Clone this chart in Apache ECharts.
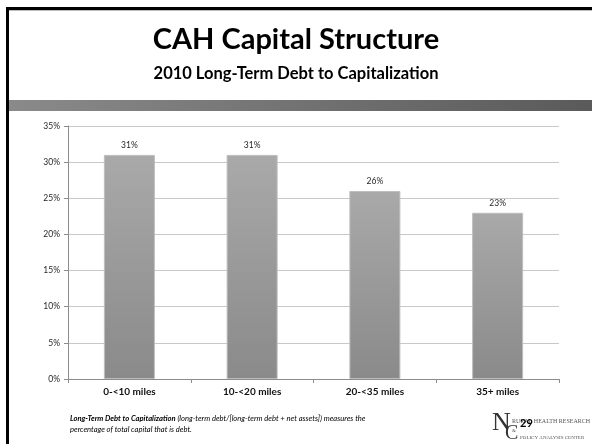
<!DOCTYPE html>
<html>
<head>
<meta charset="utf-8">
<script src="https://cdn.jsdelivr.net/npm/echarts@6/dist/echarts.min.js"></script>
<style>
  html, body { margin: 0; padding: 0; background: #fff; }
  #chart { width: 592px; height: 444px; }
</style>
</head>
<body>
<div id="chart"></div>
<script>
// Distance bands and the 2010 long-term debt to capitalization ratio (%)
const categories = ['0-<10 miles', '10-<20 miles', '20-<35 miles', '35+ miles'];
const debtToCap = [31, 31, 26, 23];
const yTicks = ['0%', '5%', '10%', '15%', '20%', '25%', '30%', '35%'];

const titleText = 'CAH Capital Structure';
const subtitleText = '2010 Long-Term Debt to Capitalization';
const noteTerm = 'Long-Term Debt to Capitalization';
const noteLine1 = ' (long-term debt/[long-term debt + net assets]) measures the';
const noteLine2 = 'percentage of total capital that is debt.';
const pageNumber = '29';

const FONT = 'Lato, "Open Sans", sans-serif';

const chart = echarts.init(document.getElementById('chart'), null, { renderer: 'canvas' });

chart.setOption({
  backgroundColor: '#ffffff',
  animation: false,
  grid: { left: 68, right: 33, top: 126, bottom: 65, containLabel: false },
  xAxis: {
    type: 'category',
    data: categories,
    axisLine: { show: true, lineStyle: { color: '#8c8c8c', width: 1 } },
    axisTick: { show: true, alignWithLabel: false, length: 4, lineStyle: { color: '#8c8c8c' } },
    axisLabel: {
      color: '#111111', fontFamily: FONT, fontWeight: 'bold', fontSize: 10, margin: 8
    }
  },
  yAxis: {
    type: 'value',
    min: 0,
    max: 35,
    interval: 5,
    axisLine: { show: true, lineStyle: { color: '#8c8c8c', width: 1 } },
    axisTick: { show: true, length: 4, lineStyle: { color: '#8c8c8c' } },
    splitLine: { show: true, lineStyle: { color: '#c8c8c8', width: 1 } },
    axisLabel: {
      color: '#262626', fontFamily: FONT, fontSize: 8.5, margin: 8,
      formatter: (v) => yTicks[Math.round(v / 5)]
    }
  },
  series: [{
    type: 'bar',
    data: debtToCap,
    barWidth: 51,
    itemStyle: {
      color: new echarts.graphic.LinearGradient(0, 0, 0, 1, [
        { offset: 0, color: '#a9a9a9' },
        { offset: 1, color: '#8a8a8a' }
      ]),
      borderColor: '#bdbdbd',
      borderWidth: 1
    },
    label: {
      show: true,
      position: 'top',
      distance: 5,
      color: '#262626',
      fontFamily: FONT,
      fontSize: 8.5,
      formatter: (p) => p.value + '%'
    }
  }],
  graphic: [
    // slide frame: black rule along the top and left edge
    { type: 'rect', shape: { x: 6, y: 7, width: 586, height: 3 }, style: { fill: '#000' }, silent: true },
    { type: 'rect', shape: { x: 9, y: 10, width: 583, height: 1 }, style: { fill: '#bbbbbb' }, silent: true },
    { type: 'rect', shape: { x: 6, y: 7, width: 3, height: 437 }, style: { fill: '#000' }, silent: true },
    // header band
    {
      type: 'rect', shape: { x: 9, y: 100, width: 583, height: 11 },
      style: {
        fill: new echarts.graphic.LinearGradient(0, 0, 1, 0, [
          { offset: 0, color: '#8a8a8a' },
          { offset: 1, color: '#5a5a5a' }
        ])
      },
      silent: true
    },
    // titles
    {
      type: 'text', left: 'center', top: 25,
      style: { text: titleText, fill: '#000', font: 'bold 29px ' + FONT, textAlign: 'center' }
    },
    {
      type: 'text', left: 'center', top: 65,
      style: { text: subtitleText, fill: '#000', font: 'bold 16.5px ' + FONT, textAlign: 'center' }
    },
    // footnote
    {
      type: 'text', left: 70, top: 415,
      style: {
        text: '{b|' + noteTerm + '}{i|' + noteLine1 + '}\n{i|' + noteLine2 + '}',
        rich: {
          b: { fontFamily: FONT, fontWeight: 'bold', fontStyle: 'italic', fontSize: 7.6, fill: '#000', lineHeight: 11 },
          i: { fontFamily: FONT, fontStyle: 'italic', fontSize: 7.6, fill: '#000', lineHeight: 11 }
        }
      }
    },
    // center logo
    {
      type: 'text', left: 492, top: 410,
      style: { text: 'N', fill: '#333', font: '26px "Liberation Serif", serif' }
    },
    {
      type: 'text', left: 505, top: 424,
      style: { text: 'C', fill: '#333', font: '20px "Liberation Serif", serif' }
    },
    {
      type: 'text', left: 512, top: 418,
      style: { text: 'RURAL HEALTH RESEARCH', fill: '#555', font: '6px "Liberation Serif", serif' }
    },
    {
      type: 'text', left: 512, top: 428,
      style: { text: '&', fill: '#555', font: '5px "Liberation Serif", serif' }
    },
    {
      type: 'text', left: 520, top: 435,
      style: { text: 'POLICY ANALYSIS CENTER', fill: '#555', font: '5px "Liberation Serif", serif' }
    },
    // page number
    {
      type: 'text', left: 520, top: 418,
      style: { text: pageNumber, fill: '#000', font: 'bold 11px ' + FONT }
    }
  ]
});
</script>
</body>
</html>
